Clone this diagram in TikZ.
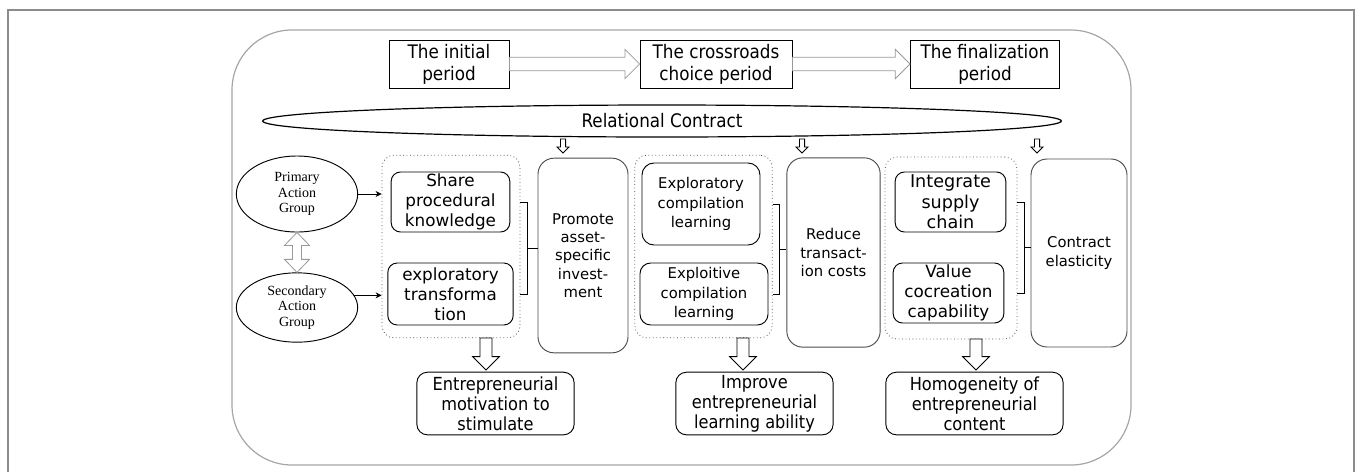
\documentclass[tikz,border=0pt]{standalone}
\usepackage{fontspec}
\newfontfamily\dv{DejaVu Sans}
\newfontfamily\dvc{DejaVu Sans Condensed}
\newfontfamily\lser{Liberation Serif}
\usetikzlibrary{calc,shapes.geometric,arrows.meta}
\newcommand\hblock[6]{\draw[#6] let \p1=(#1), \p2=(#2) in (\x1,\y1+#3) -- (\x2-#5,\y1+#3) -- (\x2-#5,\y1+#4) -- (\x2,\y1) -- (\x2-#5,\y1-#4) -- (\x2-#5,\y1-#3) -- (\x1,\y1-#3) -- cycle;}
\newcommand\vblock[6]{\draw[#6] let \p1=(#1), \p2=(#2) in (\x1-#3,\y1) -- (\x1-#3,\y2+#5) -- (\x1-#4,\y2+#5) -- (\x1,\y2) -- (\x1+#4,\y2+#5) -- (\x1+#3,\y2+#5) -- (\x1+#3,\y1) -- cycle;}
\newcommand\dblock[6]{\draw[#6] let \p1=(#1), \p2=(#2) in (\x1,\y1) -- (\x1+#4,\y1-#5) -- (\x1+#3,\y1-#5) -- (\x1+#3,\y2+#5) -- (\x1+#4,\y2+#5) -- (\x1,\y2) -- (\x1-#4,\y2+#5) -- (\x1-#3,\y2+#5) -- (\x1-#3,\y1-#5) -- (\x1-#4,\y1-#5) -- cycle;}
\begin{document}
\begin{tikzpicture}[x=0.75pt,y=-0.75pt,
  topbox/.style={draw=black, line width=0.6pt, align=center, font=\dvc\fontsize{14}{16.5}\selectfont, inner sep=0pt},
  inbox/.style={draw=black, line width=0.7pt, rounded corners=7pt, align=center, font=\dv\fontsize{12.6}{15}\selectfont, inner sep=0pt},
  smallin/.style={draw=black, line width=0.7pt, rounded corners=9pt, align=center, font=\dv\fontsize{11.1}{14.6}\selectfont, inner sep=0pt},
  midbox/.style={draw=black!70, line width=0.7pt, rounded corners=12pt, align=center, font=\dv\fontsize{11.1}{13.75}\selectfont, inner sep=0pt},
  grp/.style={draw=black!70, dotted, line width=0.6pt, rounded corners=9pt, inner sep=0pt},
  botbox/.style={draw=black, line width=0.7pt, rounded corners=8pt, align=center, font=\dvc\fontsize{13.5}{15}\selectfont, inner sep=0pt},
  actor/.style={ellipse, draw=black, line width=0.7pt, align=center, font=\lser\fontsize{10.5}{11.5}\selectfont, inner sep=0pt},
  garrow/.style={draw=black!40, line width=0.6pt, fill=white},
  barrow/.style={draw=black, line width=0.7pt, fill=white},
  link/.style={draw=black, line width=0.6pt, -{Stealth[length=4.5pt,width=4.5pt]}},
  brack/.style={draw=black, line width=0.6pt}
]
\useasboundingbox (0,0) rectangle (1356,472);
% outer frame
\draw[black!45, line width=1pt] (8,472) -- (8,10) -- (1354,10) -- (1354,472);
\draw[black!35, line width=0.9pt, rounded corners=45pt] (232,30) rectangle (1131,465);

% top period boxes
\node[topbox, minimum width=90pt, minimum height=36pt] (init) at (449,64) {The initial\\period};
\node[topbox, minimum width=114pt, minimum height=36pt] (cross) at (716,64) {The crossroads\\choice period};
\node[topbox, minimum width=112pt, minimum height=36pt] (final) at (985,64) {The finalization\\period};
\hblock{init.east}{cross.west}{5pt}{11pt}{11pt}{garrow}
\hblock{cross.east}{final.west}{5pt}{11pt}{11pt}{garrow}

% relational contract
\node[ellipse, draw=black, line width=0.9pt, minimum width=599pt, minimum height=24pt, inner sep=0pt, font=\dvc\fontsize{14}{16}\selectfont] (rel) at (662,121) {Relational Contract};

% actors
\node[actor, minimum width=91pt, minimum height=57pt] (prim) at (297,194) {Primary\\Action\\Group};
\node[actor, minimum width=91pt, minimum height=52pt] (sec) at (297,307.5) {Secondary\\Action\\Group};
\dblock{prim.south}{sec.north}{3.4pt}{9.4pt}{9.75pt}{garrow}

% group 1
\node[grp, minimum width=103.5pt, minimum height=137pt] (g1) at (451,246.5) {};
\node[inbox, minimum width=89pt, minimum height=45pt] (share) at (450.5,202) {Share\\procedural\\knowledge};
\node[inbox, minimum width=94pt, minimum height=46.5pt] (exptr) at (450.5,294) {exploratory\\transforma\\tion};
\node[midbox, minimum width=67.5pt, minimum height=146pt] (prom) at (583,255.5) {Promote\\asset-\\specific\\invest-\\ment};

% group 2
\node[grp, minimum width=103pt, minimum height=137pt] (g2) at (703.5,246.5) {};
\node[smallin, minimum width=88.5pt, minimum height=61.5pt] (excomp) at (701,204) {Exploratory\\compilation\\learning};
\node[smallin, minimum width=96pt, minimum height=46.5pt, rounded corners=8pt] (exploit) at (704,294) {Exploitive\\compilation\\learning};
\node[midbox, minimum width=70pt, minimum height=142pt] (red) at (833.5,252.5) {Reduce\\transact-\\ion costs};

% group 3
\node[grp, minimum width=99pt, minimum height=136.5pt] (g3) at (951,248) {};
\node[inbox, minimum width=83pt, minimum height=45pt, font=\dv\fontsize{13.2}{15.4}\selectfont] (integ) at (950.5,202) {Integrate\\supply\\chain};
\node[inbox, minimum width=83pt, minimum height=45pt] (value) at (948.5,293) {Value\\cocreation\\capability};
\node[midbox, minimum width=72pt, minimum height=141pt] (contr) at (1079,253) {Contract\\elasticity};

% bottom results
\node[botbox, minimum width=118pt, minimum height=47pt] (b1) at (495.5,403.5) {Entrepreneurial\\motivation to\\stimulate};
\node[botbox, minimum width=118pt, minimum height=47pt] (b2) at (754.5,403.5) {Improve\\entrepreneurial\\learning ability};
\node[botbox, minimum width=133pt, minimum height=47pt] (b3) at (974.5,403.5) {Homogeneity of\\entrepreneurial\\content};

% actor links
\draw[link] (prim.east) -- (prim.east -| g1.west);
\draw[link] (sec.12) -- (sec.12 -| g1.west);

% brackets
\draw[brack] (g1.east |- share.east) -- ++(7,0) coordinate (k1t) -- (k1t |- exptr.east) coordinate (k1b) -- (g1.east |- exptr.east);
\coordinate (k1m) at ($(k1t)!0.5!(k1b)$);
\draw[brack] (k1m) -- (k1m -| prom.west);
\draw[brack] (g2.east |- excomp.east) -- ++(7,0) coordinate (k2t) -- (k2t |- exploit.east) coordinate (k2b) -- (g2.east |- exploit.east);
\coordinate (k2m) at ($(k2t)!0.5!(k2b)$);
\draw[brack] (k2m) -- (k2m -| red.west);
\draw[brack] (g3.east |- integ.east) -- ++(7,0) coordinate (k3t) -- (k3t |- value.east) coordinate (k3b) -- (g3.east |- value.east);
\coordinate (k3m) at ($(k3t)!0.5!(k3b)$);
\draw[brack] (k3m) -- (k3m -| contr.west);

% small arrows from the relational contract
\coordinate (s1) at (563,139); \coordinate (s1e) at (563,153);
\coordinate (s2) at (802,139); \coordinate (s2e) at (802,153);
\coordinate (s3) at (1037,139); \coordinate (s3e) at (1037,153);
\vblock{s1}{s1e}{1.9pt}{4.5pt}{4.5pt}{barrow}
\vblock{s2}{s2e}{1.9pt}{4.5pt}{4.5pt}{barrow}
\vblock{s3}{s3e}{1.9pt}{4.5pt}{4.5pt}{barrow}

% big arrows to results
\coordinate (a1) at (486,338); \coordinate (a1e) at (486,370);
\coordinate (a2) at (743,338); \coordinate (a2e) at (743,370);
\coordinate (a3) at (976,339); \coordinate (a3e) at (976,370);
\vblock{a1}{a1e}{4.5pt}{10pt}{10pt}{barrow}
\vblock{a2}{a2e}{4.5pt}{10pt}{10pt}{barrow}
\vblock{a3}{a3e}{4.5pt}{10pt}{10pt}{barrow}
\end{tikzpicture}
\end{document}
